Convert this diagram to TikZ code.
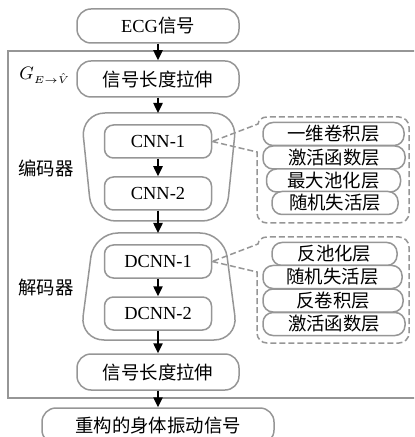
\documentclass[tikz,border=0pt]{standalone}
\usepackage{fontspec}
\setmainfont{Liberation Serif}
\newfontfamily\cjk{Noto Sans CJK SC}
\usetikzlibrary{arrows.meta}
\definecolor{bgray}{RGB}{150,150,150}
\tikzset{
  every node/.style={font=\fontsize{9.2pt}{11pt}\selectfont, text=black, inner sep=0pt},
  mainbox/.style={draw=bgray, line width=0.75pt, rounded corners=7pt, minimum width=81pt, minimum height=18pt},
  cnnbox/.style={draw=bgray, line width=0.75pt, rounded corners=4.5pt, minimum width=53.5pt, minimum height=16.5pt},
  itembox/.style={draw=bgray, line width=0.75pt, rounded corners=5pt, minimum height=11.5pt, fill=white, font=\cjk\fontsize{9.2pt}{11pt}\selectfont},
  groupbox/.style={draw=bgray, line width=0.75pt, rounded corners=12pt},
  callout/.style={draw=bgray, line width=0.75pt, dash pattern=on 3pt off 1.5pt},
  frame/.style={draw=bgray, line width=0.75pt},
  arr/.style={-{Triangle[length=5pt,width=4.6pt]}, line width=0.9pt, black},
  lbl/.style={font=\cjk\fontsize{9.2pt}{11pt}\selectfont}
}
\begin{document}
\begin{tikzpicture}[x=0.5pt,y=-0.5pt]
\useasboundingbox (0,0) rectangle (414,437);
\clip (0,0) rectangle (414,437);

% outer frame
\draw[frame] (8,51) rectangle (430,398);

% encoder / decoder groups
\draw[groupbox] (81,113) -- (237,113) -- (226,221) -- (92,221) -- cycle;
\draw[groupbox] (94,233) -- (224,233) -- (238,340) -- (80,340) -- cycle;
\coordinate (enctop) at (158,113);
\coordinate (dectop) at (158,233);

% main nodes
\node[mainbox, minimum height=17pt] (ecg) at (158,26) {ECG{\cjk 信号}};
\node[mainbox, font=\cjk\fontsize{9.2pt}{11pt}\selectfont] (s1) at (158,79) {信号长度拉伸};
\node[cnnbox] (c1) at (158,141.5) {CNN-1};
\node[cnnbox] (c2) at (158,193.5) {CNN-2};
\node[cnnbox] (d1) at (158,261.5) {DCNN-1};
\node[cnnbox] (d2) at (158,313.5) {DCNN-2};
\node[mainbox, font=\cjk\fontsize{9.2pt}{11pt}\selectfont] (s2) at (158,372) {信号长度拉伸};
\node[mainbox, minimum width=116pt, font=\cjk\fontsize{9.2pt}{11pt}\selectfont] (fin) at (158,426) {重构的身体振动信号};

% labels
\node[anchor=base west, font=\fontsize{9.5pt}{11pt}\selectfont] (glbl) at (19,80) {$G_{\scriptscriptstyle E\rightarrow\hat{V}}$};
\node[lbl] (enc) at (46,168) {编码器};
\node[lbl] (dec) at (46,288) {解码器};

% callout 1
\draw[callout] (c1.east) -- (257,152) -- (257,213)
  .. controls (257,218.5) and (261.5,223) .. (267,223) -- (399,223)
  .. controls (404.5,223) and (409,218.5) .. (409,213) -- (409,127)
  .. controls (409,121.5) and (404.5,117) .. (399,117) -- (267,117)
  .. controls (262,117) and (258.5,120) .. (258,124) -- cycle;
\node[itembox, minimum width=70.5pt] (a1) at (333.5,134) {一维卷积层};
\node[itembox, minimum width=71pt] (a2) at (334,157.5) {激活函数层};
\node[itembox, minimum width=67pt] (a3) at (333.5,180.5) {最大池化层};
\node[itembox, minimum width=63pt] (a4) at (335,203) {随机失活层};

% callout 2
\draw[callout] (d1.east) -- (257,272) -- (257,333)
  .. controls (257,338.5) and (261.5,343) .. (267,343) -- (399,343)
  .. controls (404.5,343) and (409,338.5) .. (409,333) -- (409,247)
  .. controls (409,241.5) and (404.5,237) .. (399,237) -- (267,237)
  .. controls (262,237) and (258.5,240) .. (258,244) -- cycle;
\node[itembox, minimum width=62.5pt] (b1) at (334.5,254) {反池化层};
\node[itembox, minimum width=69.5pt] (b2) at (332.5,277) {随机失活层};
\node[itembox, minimum width=70pt] (b3) at (333,300.5) {反卷积层};
\node[itembox, minimum width=71pt] (b4) at (334,324) {激活函数层};

% arrows
\draw[arr] (ecg.south) -- (s1.north);
\draw[arr] (s1.south) -- (enctop);
\draw[arr] (c1.south) -- (c2.north);
\draw[arr] (c2.south) -- (dectop);
\draw[arr] (d1.south) -- (d2.north);
\draw[arr] (d2.south) -- (s2.north);
\draw[arr] (s2.south) -- (fin.north);
\end{tikzpicture}
\end{document}
